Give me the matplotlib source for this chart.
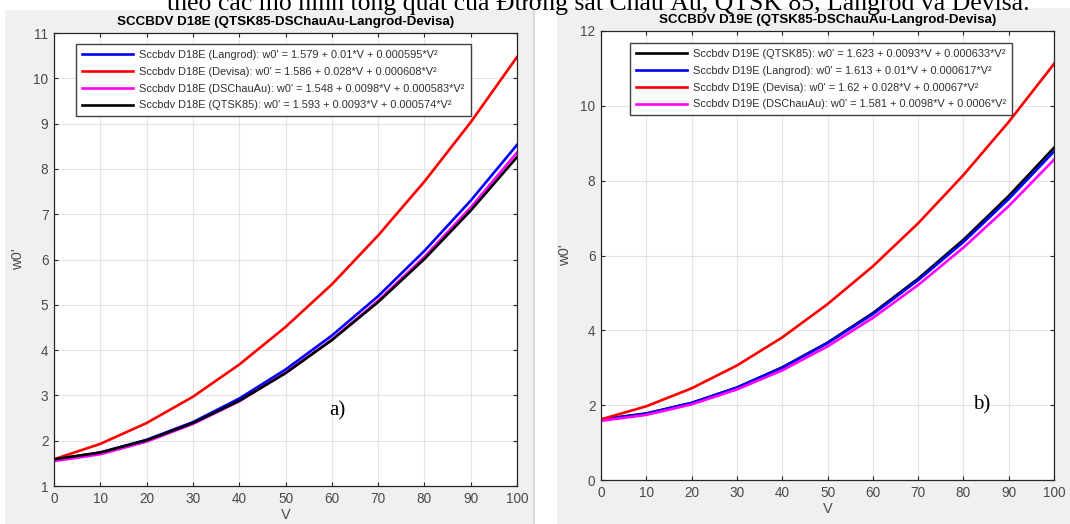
import matplotlib
matplotlib.use("Agg")
import matplotlib.pyplot as plt
from matplotlib.patches import Rectangle

W, H = 1070, 524
plt.rcParams['font.family'] = ['Liberation Sans', 'DejaVu Sans']

V = [0, 10, 20, 30, 40, 50, 60, 70, 80, 90, 100]

# Panel a) D18E
d18_langrod = [1.58, 1.74, 2.02, 2.41, 2.93, 3.57, 4.32, 5.19, 6.19, 7.30, 8.53]
d18_devisa = [1.59, 1.93, 2.39, 2.97, 3.68, 4.51, 5.45, 6.53, 7.72, 9.03, 10.47]
d18_dschauau = [1.55, 1.70, 1.98, 2.37, 2.87, 3.50, 4.23, 5.09, 6.06, 7.15, 8.36]
d18_qtsk85 = [1.59, 1.74, 2.01, 2.39, 2.88, 3.49, 4.22, 5.06, 6.01, 7.08, 8.26]

# Panel b) D19E
d19_qtsk85 = [1.62, 1.78, 2.06, 2.47, 3.01, 3.67, 4.46, 5.38, 6.42, 7.59, 8.88]
d19_langrod = [1.61, 1.77, 2.06, 2.47, 3.00, 3.66, 4.43, 5.34, 6.36, 7.51, 8.78]
d19_devisa = [1.62, 1.97, 2.45, 3.06, 3.81, 4.70, 5.71, 6.86, 8.15, 9.57, 11.12]
d19_dschauau = [1.58, 1.74, 2.02, 2.42, 2.93, 3.57, 4.33, 5.21, 6.21, 7.32, 8.56]

labels_a = [
    "Sccbdv D18E (Langrod): w0' = 1.579 + 0.01*V + 0.000595*V²",
    "Sccbdv D18E (Devisa): w0' = 1.586 + 0.028*V + 0.000608*V²",
    "Sccbdv D18E (DSChauAu): w0' = 1.548 + 0.0098*V + 0.000583*V²",
    "Sccbdv D18E (QTSK85): w0' = 1.593 + 0.0093*V + 0.000574*V²",
]
labels_b = [
    "Sccbdv D19E (QTSK85): w0' = 1.623 + 0.0093*V + 0.000633*V²",
    "Sccbdv D19E (Langrod): w0' = 1.613 + 0.01*V + 0.000617*V²",
    "Sccbdv D19E (Devisa): w0' = 1.62 + 0.028*V + 0.00067*V²",
    "Sccbdv D19E (DSChauAu): w0' = 1.581 + 0.0098*V + 0.0006*V²",
]
title_a = "SCCBDV D18E (QTSK85-DSChauAu-Langrod-Devisa)"
title_b = "SCCBDV D19E (QTSK85-DSChauAu-Langrod-Devisa)"
caption = "theo các mô hình tổng quát của Đường sắt Châu Âu, QTSK 85, Langrod và Devisa."

fig = plt.figure(figsize=(W / 100, H / 100), dpi=100)
fig.patch.set_facecolor('white')

def px_rect(x0, y0, x1, y1, **kw):
    r = Rectangle((x0 / W, 1 - y1 / H), (x1 - x0) / W, (y1 - y0) / H,
                  transform=fig.transFigure, **kw)
    fig.patches.append(r)

px_rect(5, 10, 535, 524, facecolor='#f0f0f0', edgecolor='none', zorder=-5)
px_rect(533, 10, 535, 524, facecolor='#d8d8d8', edgecolor='none', zorder=-5)
px_rect(557, 8, 1070, 524, facecolor='#f0f0f0', edgecolor='none', zorder=-5)

def ax_at(x0, y0, x1, y1):
    ax = fig.add_axes([x0 / W, 1 - y1 / H, (x1 - x0) / W, (y1 - y0) / H])
    ax.set_zorder(1)
    return ax

axc = '#262626'

def style(ax, ylim, yticks):
    ax.set_xlim(0, 100)
    ax.set_ylim(*ylim)
    ax.set_xticks(range(0, 101, 10))
    ax.set_yticks(yticks)
    ax.grid(True, color='#e3e3e3', lw=0.8)
    ax.set_axisbelow(True)
    ax.tick_params(direction='in', top=True, right=True, length=3,
                   colors=axc, labelsize=9.8, labelcolor='#4a4a4a', width=0.8,
                   pad=4)
    for s in ax.spines.values():
        s.set_color(axc)
        s.set_linewidth(0.9)
    ax.set_facecolor('white')

def add_legend(ax, handles, labels, x, y):
    leg = ax.legend(handles, labels, loc='upper left',
                    bbox_to_anchor=(x / W, 1 - y / H),
                    bbox_transform=fig.transFigure, fontsize=7.9,
                    fancybox=False, framealpha=1, edgecolor='#404040',
                    handlelength=4.6, labelspacing=0.62, borderpad=0.55,
                    handletextpad=0.6, borderaxespad=0)
    leg.get_frame().set_linewidth(1.0)
    for t in leg.get_texts():
        t.set_color('#303030')
    return leg

# Panel a
axa = ax_at(54, 33, 517, 486)
series_a = [(d18_langrod, 'blue'), (d18_devisa, 'red'), (d18_dschauau, 'magenta'), (d18_qtsk85, 'black')]
handles = []
for (vals, c), lab in zip(series_a, labels_a):
    h, = axa.plot(V, vals, color=c, lw=1.9, label=lab)
    handles.append(h)
style(axa, (1, 11), range(1, 12))
axa.set_title(title_a, fontsize=9.6, fontweight='bold', color='black', pad=6)
axa.set_xlabel('V', fontsize=10.5, color='#4a4a4a', labelpad=2)
axa.set_ylabel("w0'", fontsize=10.5, color='#4a4a4a', labelpad=6)
add_legend(axa, handles, labels_a, 76, 44)
axa.text(0.611, 0.165, 'a)', transform=axa.transAxes, fontsize=15,
         family='Liberation Serif', ha='center', va='center')

# Panel b
axb = ax_at(601, 31, 1054, 480)
series_b = [(d19_qtsk85, 'black'), (d19_langrod, 'blue'), (d19_devisa, 'red'), (d19_dschauau, 'magenta')]
handles = []
for (vals, c), lab in zip(series_b, labels_b):
    h, = axb.plot(V, vals, color=c, lw=1.9, label=lab)
    handles.append(h)
style(axb, (0, 12), range(0, 13, 2))
axb.set_title(title_b, fontsize=9.6, fontweight='bold', color='black', pad=6)
axb.set_xlabel('V', fontsize=10.5, color='#4a4a4a', labelpad=2)
axb.set_ylabel("w0'", fontsize=10.5, color='#4a4a4a', labelpad=6)
add_legend(axb, handles, labels_b, 630, 43)
axb.text(0.841, 0.167, 'b)', transform=axb.transAxes, fontsize=15,
         family='Liberation Serif', ha='center', va='center')

# Cut-off caption at top (as in the reference)
fig.text(598 / W, 1 - 10 / H, caption, fontsize=18.5, family='Liberation Serif',
         ha='center', va='baseline', zorder=0)

fig.savefig('out.png', dpi=100)
